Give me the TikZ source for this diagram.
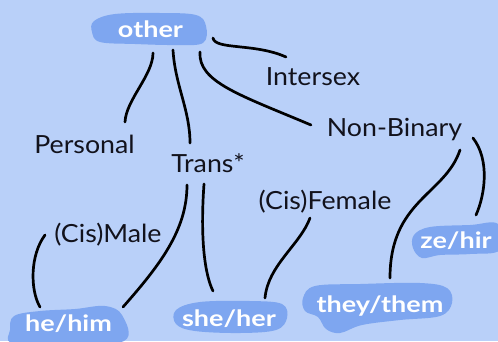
\documentclass[tikz,border=0pt]{standalone}
\usepackage{fontspec}
\setmainfont{Lato}
\newfontfamily\lblfont[FakeStretch=1.07]{Lato}
\newfontfamily\tagfont[FakeStretch=1.2]{Lato}
\usetikzlibrary{calc}
\definecolor{bg}{RGB}{185,208,249}
\definecolor{blob}{RGB}{126,166,240}
\definecolor{ink}{RGB}{18,18,28}
\begin{document}
\begin{tikzpicture}[x=1pt,y=-1pt,
  lbl/.style={font=\lblfont\fontsize{25}{28}\selectfont, text=ink, inner sep=0pt, text height=18pt, text depth=0pt},
  tag/.style={font=\tagfont\bfseries\fontsize{22.5}{26}\selectfont, text=white, inner sep=0pt, text height=16.5pt, text depth=0pt},
  conn/.style={line width=2.7pt, line cap=round, draw=black}]
\fill[bg] (0,0) rectangle (498,341);
\useasboundingbox (0,0) rectangle (498,341);
% blobs
\fill[blob] plot[smooth cycle, tension=0.6] coordinates {(94,21) (115,14) (160,13) (196,15) (206,26) (203,43) (175,45) (135,44) (100,42) (92,32)};
\fill[blob] plot[smooth cycle, tension=0.6] coordinates {(14,316) (40,311) (75,309) (105,306) (122,315) (124,341) (60,345) (12,343) (10,330)};
\fill[blob] plot[smooth cycle, tension=0.6] coordinates {(176,310) (200,302) (250,301) (282,304) (287,318) (276,330) (240,333) (195,331) (176,324)};
\fill[blob] plot[smooth cycle, tension=0.6] coordinates {(303,298) (315,286) (360,284) (420,283) (447,288) (452,303) (440,316) (400,320) (362,325) (340,333) (326,329) (318,317) (305,311)};
\fill[blob] plot[smooth cycle, tension=0.6] coordinates {(414,235) (430,227) (470,225) (498,224) (500,250) (470,254) (440,255) (422,258) (413,248)};
% nodes
\node[tag] (other) at (150.5,29.5) {other};
\node[lbl] (intersex) at (313,76) {Intersex};
\node[lbl] (nonbinary) at (394.5,127) {Non-Binary};
\node[lbl] (personal) at (84.5,144) {Personal};
\node[lbl] (trans) at (208,163) {Trans*};
\node[lbl] (female) at (325,200) {(Cis)Female};
\node[lbl] (male) at (108,233.5) {(Cis)Male};
\node[tag] (hehim) at (68.5,323) {he/him};
\node[tag] (sheher) at (229,318.5) {she/her};
\node[tag] (theythem) at (380,304.5) {they/them};
\node[tag] (zehir) at (456,240) {ze/hir};
% connectors
\draw[conn] ($(other)+(2.5,23.5)$) .. controls (153,75) and (126,100) .. ($(personal)+(40.5,-22)$);
\draw[conn] ($(other)+(22.5,20.5)$) .. controls (175,85) and (190,110) .. ($(trans)+(-18,-20)$);
\draw[conn] ($(other)+(49.5,22.5)$) .. controls (198,82) and (240,95) .. ($(nonbinary)+(-83.5,-2)$);
\draw[conn] ($(other)+(62.5,8.5)$) .. controls (215,50) and (255,43) .. ($(intersex)+(-27,-19)$);
\draw[conn] ($(trans)+(-21,22)$) .. controls (187,230) and (160,265) .. ($(hehim)+(54.5,-16)$);
\draw[conn] ($(trans)+(-4,21)$) .. controls (200,240) and (205,275) .. ($(sheher)+(-16,-27.5)$);
\draw[conn] ($(male)+(-63,1.5)$) .. controls (30,255) and (30,290) .. ($(hehim)+(-28.5,-16)$);
\draw[conn] ($(female)+(-15,18)$) .. controls (300,245) and (268,265) .. ($(sheher)+(36,-20.5)$);
\draw[conn] ($(nonbinary)+(65.5,23)$) .. controls (445,195) and (390,200) .. ($(theythem)+(10,-26.5)$);
\draw[conn] ($(nonbinary)+(78.5,11)$) .. controls (490,160) and (485,195) .. ($(zehir)+(20,-25)$);
\end{tikzpicture}
\end{document}
